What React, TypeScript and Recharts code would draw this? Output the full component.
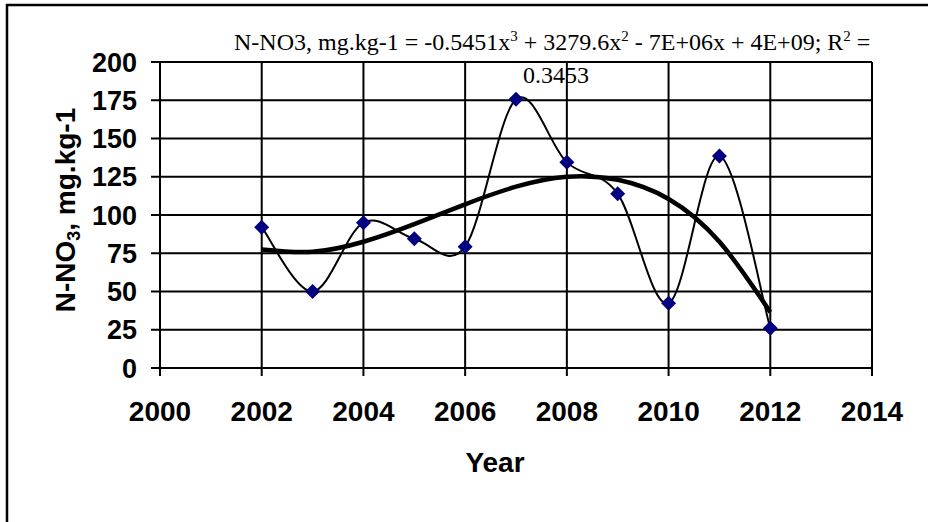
import { LineChart, Line, XAxis, YAxis, CartesianGrid } from "recharts";

const years = [2002, 2003, 2004, 2005, 2006, 2007, 2008, 2009, 2010, 2011, 2012];
const nno3 = [92, 50, 95, 84.5, 79.3, 175.6, 134.4, 113.9, 42.3, 138.6, 26];
// polynomial trend line, read at each year
const trend = [77.5, 76, 82.5, 94, 107, 118.5, 125, 123, 110.5, 82.5, 36.5];
const xTicks = [2000, 2002, 2004, 2006, 2008, 2010, 2012, 2014];
const yTicks = [0, 25, 50, 75, 100, 125, 150, 175, 200];

const data = years.map((year, i) => ({ year, nno3: nno3[i], trend: trend[i] }));

const SANS = '"Liberation Sans", Arial, sans-serif';
const SERIF = '"Liberation Serif", "Times New Roman", serif';

// Excel-like smoothed line (uniform Catmull-Rom as cubic beziers)
function excelSmooth(context: any) {
  let pts: number[][] = [];
  return {
    areaStart() {},
    areaEnd() {},
    lineStart() {
      pts = [];
    },
    point(x: number, y: number) {
      pts.push([+x, +y]);
    },
    lineEnd() {
      const n = pts.length;
      if (!n) return;
      context.moveTo(pts[0][0], pts[0][1]);
      for (let i = 0; i < n - 1; i++) {
        const p0 = pts[Math.max(i - 1, 0)];
        const p1 = pts[i];
        const p2 = pts[i + 1];
        const p3 = pts[Math.min(i + 2, n - 1)];
        context.bezierCurveTo(
          p1[0] + (p2[0] - p0[0]) / 6,
          p1[1] + (p2[1] - p0[1]) / 6,
          p2[0] - (p3[0] - p1[0]) / 6,
          p2[1] - (p3[1] - p1[1]) / 6,
          p2[0],
          p2[1]
        );
      }
    },
  };
}

function Diamond(props: any) {
  const { cx, cy } = props;
  if (cx == null || cy == null) return null;
  const r = 7.5;
  return (
    <polygon
      key={`d-${cx}`}
      points={`${cx},${cy - r} ${cx + r},${cy} ${cx},${cy + r} ${cx - r},${cy}`}
      fill="#000080"
    />
  );
}

function YTitle() {
  return (
    <text
      x={68}
      y={210}
      transform="rotate(-90 68 210)"
      textAnchor="middle"
      dominantBaseline="middle"
      fontFamily={SANS}
      fontWeight="bold"
      fontSize={28}
      fill="#000"
    >
      N-NO
      <tspan dy={7} fontSize={18}>3</tspan>
      <tspan dy={-7}>, mg.kg-1</tspan>
    </text>
  );
}

function XTitle() {
  return (
    <text x={495} y={472} textAnchor="middle" fontFamily={SANS} fontWeight="bold" fontSize={28} fill="#000">
      Year
    </text>
  );
}

export default function App() {
  return (
    <div style={{ position: "absolute", left: 0, top: 0, width: 928, height: 522, overflow: "hidden", background: "#fff" }}>
      <svg width={928} height={522} style={{ position: "absolute", left: 0, top: 0 }}>
        <rect x={7} y={5} width={960} height={560} fill="none" stroke="#000" strokeWidth={2.5} />
        <text x={234} y={50} fontFamily={SERIF} fontSize={24} fill="#000">
          N-NO3, mg.kg-1 = -0.5451x<tspan dy={-9} fontSize={15}>3</tspan>
          <tspan dy={9}> + 3279.6x</tspan>
          <tspan dy={-9} fontSize={15}>2</tspan>
          <tspan dy={9}> - 7E+06x + 4E+09; R</tspan>
          <tspan dy={-9} fontSize={15}>2</tspan>
          <tspan dy={9}> =</tspan>
        </text>
        <text x={556} y={83} textAnchor="middle" fontFamily={SERIF} fontSize={24} fill="#000">
          0.3453
        </text>
      </svg>
      <div style={{ position: "absolute", left: 0, top: 0 }}>
        <LineChart
          width={928}
          height={522}
          data={data}
          margin={{ top: 62, right: 56, left: 10, bottom: 94 }}
          style={{ fontFamily: SANS }}
        >
          <CartesianGrid stroke="#000" strokeWidth={2} />
          <XAxis
            dataKey="year"
            type="number"
            domain={[2000, 2014]}
            ticks={xTicks}
            interval={0}
            height={60}
            tickSize={8}
            tickMargin={25}
            axisLine={{ stroke: "#000", strokeWidth: 2 }}
            tickLine={{ stroke: "#000", strokeWidth: 2 }}
            tick={{ fill: "#000", fontSize: 28, fontWeight: "bold", fontFamily: SANS }}
            label={{ content: () => <XTitle /> }}
          />
          <YAxis
            type="number"
            domain={[0, 200]}
            ticks={yTicks}
            interval={0}
            width={150}
            tickSize={9}
            tickMargin={14}
            axisLine={{ stroke: "#000", strokeWidth: 2 }}
            tickLine={{ stroke: "#000", strokeWidth: 2 }}
            tick={{ fill: "#000", fontSize: 27, fontWeight: "bold", fontFamily: SANS }}
            label={{ content: () => <YTitle /> }}
          />
          <Line
            dataKey="trend"
            type="natural"
            stroke="#000"
            strokeWidth={4.5}
            dot={false}
            activeDot={false}
            isAnimationActive={false}
          />
          <Line
            dataKey="nno3"
            type={excelSmooth as any}
            stroke="#000"
            strokeWidth={2}
            dot={<Diamond />}
            activeDot={false}
            isAnimationActive={false}
          />
        </LineChart>
      </div>
    </div>
  );
}
